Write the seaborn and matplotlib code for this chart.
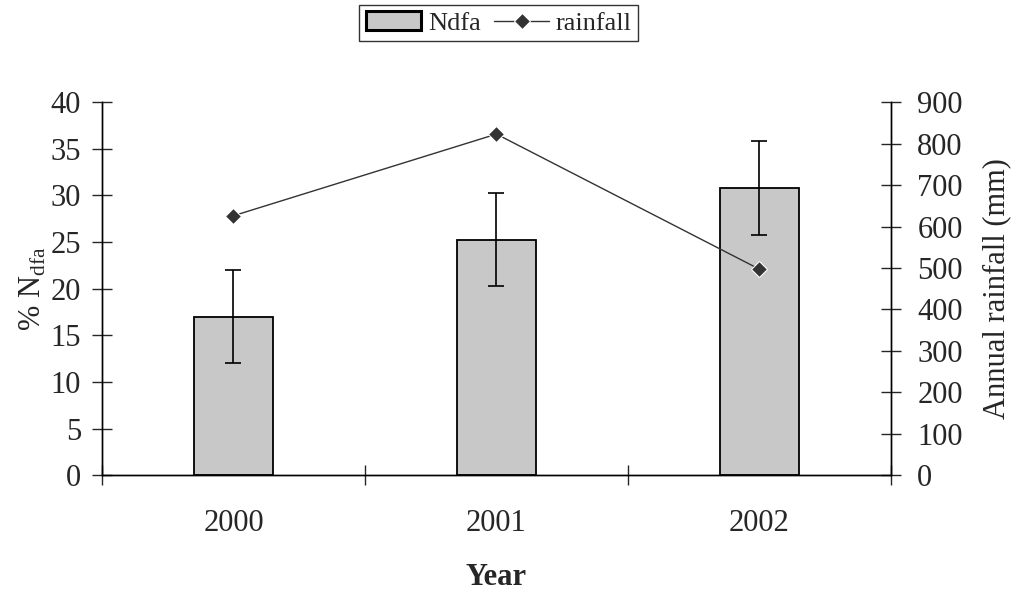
import numpy as np
import pandas as pd
import matplotlib
matplotlib.use("Agg")
import matplotlib.pyplot as plt
import seaborn as sns

years = ["2000", "2001", "2002"]
ndfa = [17.0, 25.25, 30.8]
ndfa_err = [5.0, 5.0, 5.0]
rainfall = [626, 823, 497]

sns.set_style("ticks")
plt.rcParams["font.family"] = ["Liberation Serif", "DejaVu Serif"]
plt.rcParams["mathtext.fontset"] = "custom"
plt.rcParams["mathtext.rm"] = "Liberation Serif"

df = pd.DataFrame({"Year": years, "Ndfa": ndfa, "err": ndfa_err, "rainfall": rainfall})

fig = plt.figure(figsize=(10.14, 5.94), dpi=100)
ax = fig.add_axes([0.1006, 0.2, 0.778, 0.628])

sns.barplot(data=df, x="Year", y="Ndfa", ax=ax, color="#c8c8c8", width=0.3,
            edgecolor="black", linewidth=1.3, saturation=1, label="Ndfa")
ax.errorbar(np.arange(len(years)), df["Ndfa"], yerr=df["err"], fmt="none",
            ecolor="black", elinewidth=1.2, capsize=5.5, capthick=1.2)
if ax.get_legend() is not None:
    ax.get_legend().remove()

ax2 = ax.twinx()
sns.lineplot(x=np.arange(len(years)), y=df["rainfall"], ax=ax2, color="#333333",
             marker="D", markersize=8, linewidth=1, label="rainfall")
if ax2.get_legend() is not None:
    ax2.get_legend().remove()

ax.set_xlim(-0.5, 2.5)
ax.set_ylim(0, 40)
ax2.set_ylim(0, 900)
ax.set_yticks(range(0, 41, 5))
ax2.set_yticks(range(0, 901, 100))

ax.set_xticks([-0.5, 0.5, 1.5, 2.5])
ax.set_xticklabels([])
ax.set_xticks([0, 1, 2], minor=True)
ax.set_xticklabels(years, minor=True)
ax.tick_params(axis="x", which="minor", length=0, pad=24, labelsize=22)
ax.tick_params(axis="x", which="major", direction="inout", length=14, width=1)
ax.tick_params(axis="y", direction="inout", length=14, width=1, labelsize=22, pad=8)
ax2.tick_params(axis="y", direction="inout", length=14, width=1, labelsize=22, pad=12)

for a in (ax, ax2):
    a.spines["top"].set_visible(False)
    for s in ("left", "right", "bottom"):
        a.spines[s].set_linewidth(1)
        a.spines[s].set_color("black")

ax.set_xlabel("Year", fontsize=22, fontweight="bold", labelpad=18)
ax.set_ylabel("% N$_{\\rm dfa}$", fontsize=22, labelpad=2)
ax2.set_ylabel("Annual rainfall (mm)", fontsize=22, labelpad=14)

h1, l1 = ax.get_legend_handles_labels()
h2, l2 = ax2.get_legend_handles_labels()
leg = fig.legend(h1 + h2, l1 + l2, loc="upper center", bbox_to_anchor=(0.492, 0.992),
                 borderaxespad=0, ncol=2, frameon=True, fancybox=False, edgecolor="black",
                 fontsize=19, handlelength=2.1, columnspacing=0.5,
                 handletextpad=0.25, borderpad=0.25)
leg.get_frame().set_linewidth(1)
leg.legend_handles[0].set_linewidth(2.2)

fig.savefig("out.png", dpi=100)
